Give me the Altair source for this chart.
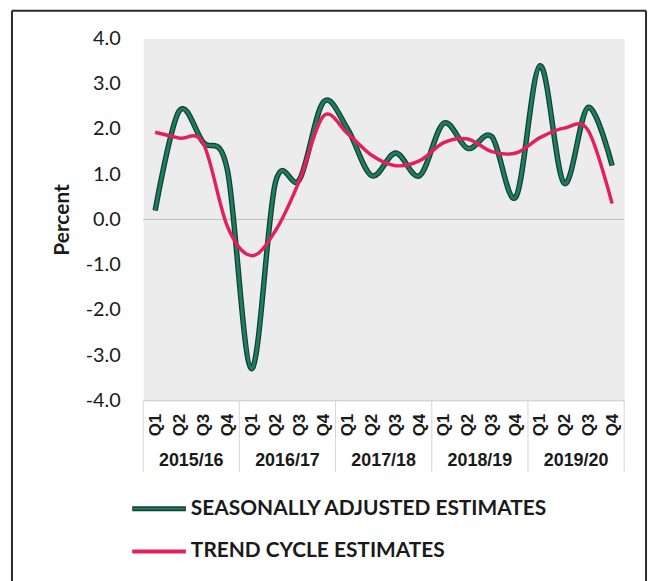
import altair as alt
import pandas as pd

# ---- data ----
years = ["2015/16", "2016/17", "2017/18", "2018/19", "2019/20"]
quarters = ["Q1", "Q2", "Q3", "Q4"]
series_names = ["SEASONALLY ADJUSTED ESTIMATES", "TREND CYCLE ESTIMATES"]
seasonally_adjusted = [0.2, 2.4, 1.7, 1.1, -3.3, 0.82, 0.88, 2.6, 2.0, 0.97,
                       1.47, 0.97, 2.13, 1.57, 1.83, 0.5, 3.4, 0.8, 2.48, 1.19]
trend_cycle = [1.93, 1.8, 1.68, -0.15, -0.8, -0.25, 0.86, 2.29, 1.9, 1.42,
               1.19, 1.3, 1.7, 1.78, 1.5, 1.47, 1.81, 2.02, 1.97, 0.35]
y_ticks = [-4, -3, -2, -1, 0, 1, 2, 3, 4]

n = len(years) * len(quarters)
idx = list(range(n))
df = pd.DataFrame({
    "idx": idx * 2,
    "value": seasonally_adjusted + trend_cycle,
    "series": [series_names[0]] * n + [series_names[1]] * n,
})
year_df = pd.DataFrame({"year": years,
                        "mid": [i * len(quarters) + (len(quarters) - 1) / 2 for i in range(len(years))]})
sep_df = pd.DataFrame({"b": [i * len(quarters) - 0.5 for i in range(len(years) + 1)]})
zero_df = pd.DataFrame({"v": [0]})
one = pd.DataFrame({"a": [0]})

W, H = 484, 364
GREEN_DARK = "#123f33"
GREEN = "#1f7d5f"
RED = "#e2215a"
TXT = "#1a1a1a"

xscale = alt.Scale(domain=[-0.5, n - 0.5], nice=False, zero=False)
yscale = alt.Scale(domain=[-4, 4], nice=False, zero=False)

x_axis = alt.Axis(values=idx, labelExpr="'Q' + (datum.value % 4 + 1)",
                  labelAngle=270, labelFont="Liberation Sans", labelFontSize=17,
                  labelFontWeight="bold", labelColor=TXT, labelPadding=13,
                  ticks=False, grid=False, domain=True, domainColor="#c8c8c8",
                  title=None, labelOverlap=False, labelBound=False, labelFlush=False)
y_axis = alt.Axis(values=y_ticks,
                  labelExpr="(datum.value < 0 ? '-' : '') + format(abs(datum.value), '.1f')",
                  labelFont="Lato", labelFontSize=20, labelColor=TXT, labelPadding=23,
                  ticks=False, domain=False, grid=False,
                  title="Percent", titleFont="Lato", titleFontSize=21, titleFontWeight="bold",
                  titleAngle=270, titleX=-81, titleY=H / 2, titleAlign="center",
                  titleBaseline="middle", titleColor=TXT)

X = lambda f: alt.X(f, scale=xscale, axis=x_axis)
Y = lambda f: alt.Y(f, scale=yscale, axis=y_axis)

base = alt.Chart(df)

zero_rule = alt.Chart(zero_df).mark_rule(color="#bdbdbd", strokeWidth=1).encode(y=Y("v:Q"))

green_under = base.transform_filter(alt.datum.series == series_names[0]).mark_line(
    interpolate="cardinal", color=GREEN_DARK, strokeWidth=5.5).encode(
    x=X("idx:Q"), y=Y("value:Q"))
green_top = base.transform_filter(alt.datum.series == series_names[0]).mark_line(
    interpolate="cardinal", color=GREEN, strokeWidth=3).encode(
    x=X("idx:Q"), y=Y("value:Q"))
red_line = base.transform_filter(alt.datum.series == series_names[1]).mark_line(
    interpolate="cardinal", color=RED, strokeWidth=3.5).encode(
    x=X("idx:Q"), y=Y("value:Q"))

separators = alt.Chart(sep_df).mark_rule(color="#d6d6d6", strokeWidth=1).encode(
    x=X("b:Q"), y=alt.value(H), y2=alt.value(H + 72))

year_text = alt.Chart(year_df).mark_text(
    font="Liberation Sans", fontSize=18, fontWeight="bold", color=TXT,
    baseline="middle", align="center").encode(
    x=X("mid:Q"), y=alt.value(H + 61), text="year:N")

# legend (drawn manually)
leg_y = [H + 109, H + 152]
legend_layers = []
for i, (name, col) in enumerate(zip(series_names, [GREEN, RED])):
    if i == 0:
        legend_layers.append(alt.Chart(one).mark_rule(color=GREEN_DARK, strokeWidth=5).encode(
            x=alt.value(-11), x2=alt.value(43), y=alt.value(leg_y[i])))
        legend_layers.append(alt.Chart(one).mark_rule(color=GREEN, strokeWidth=2).encode(
            x=alt.value(-10), x2=alt.value(42), y=alt.value(leg_y[i])))
    else:
        legend_layers.append(alt.Chart(one).mark_rule(color=col, strokeWidth=4).encode(
            x=alt.value(-11), x2=alt.value(43), y=alt.value(leg_y[i])))
    legend_layers.append(alt.Chart(pd.DataFrame({"label": [name]})).mark_text(
        align="left", baseline="middle", font="Lato", fontSize=21, fontWeight="bold",
        color=TXT).encode(x=alt.value(48), y=alt.value(leg_y[i]), text="label:N"))

# outer frame of the figure
frame = [
    alt.Chart(one).mark_rule(color="#2a2a2a", strokeWidth=2).encode(
        x=alt.value(-132), y=alt.value(-28), y2=alt.value(560)),
    alt.Chart(one).mark_rule(color="#2a2a2a", strokeWidth=2).encode(
        x=alt.value(-132), x2=alt.value(506), y=alt.value(-28)),
    alt.Chart(one).mark_rule(color="#2a2a2a", strokeWidth=2).encode(
        x=alt.value(506), y=alt.value(-28), y2=alt.value(560)),
]

chart = alt.layer(
    zero_rule, separators, green_under, green_top, red_line, year_text,
    *legend_layers, *frame
).properties(
    width=W, height=H,
    padding={"left": 136, "top": 29, "right": 27, "bottom": 180},
    autosize=alt.AutoSizeParams(type="none"),
    background="white",
).configure_view(fill="#ececec", strokeOpacity=0)

chart.save("out.html", embed_options={"renderer": "svg", "actions": False})
